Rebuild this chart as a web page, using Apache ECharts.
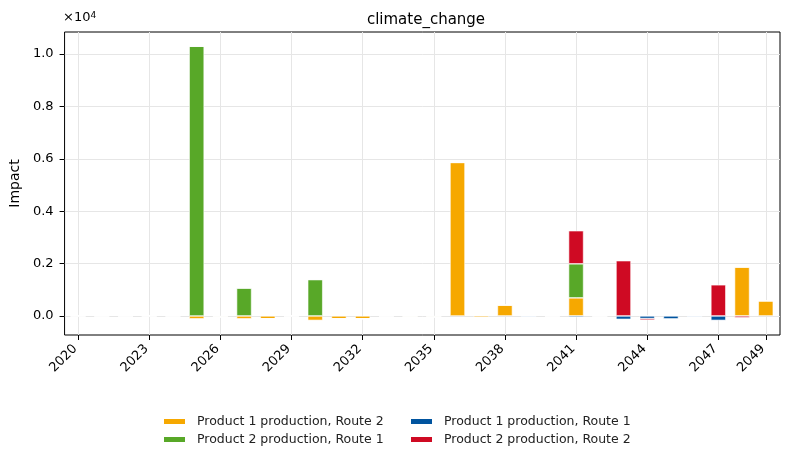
<!DOCTYPE html>
<html>
<head>
<meta charset="utf-8">
<script src="https://cdn.jsdelivr.net/npm/echarts@6/dist/echarts.min.js"></script>
<style>
html, body { margin: 0; padding: 0; background: #fff; }
#main { width: 790px; height: 461px; }
</style>
</head>
<body>
<div id="main"></div>
<script>
// 年份
var years = [2020, 2021, 2022, 2023, 2024, 2025, 2026, 2027, 2028, 2029,
    2030, 2031, 2032, 2033, 2034, 2035, 2036, 2037, 2038, 2039,
    2040, 2041, 2042, 2043, 2044, 2045, 2046, 2047, 2048, 2049];
// 刻度
var xTicks = [2020, 2023, 2026, 2029, 2032, 2035, 2038, 2041, 2044, 2047, 2049];
var yTicks = [0, 2000, 4000, 6000, 8000, 10000];

// 各系列数值
var names = ['Product 1 production, Route 2', 'Product 2 production, Route 1',
    'Product 1 production, Route 1', 'Product 2 production, Route 2'];
var p1Route2 = [0, 0, 0, 0, 0, -110, -40, -110, -110, 0,
    -170, -110, -110, 0, -40, -40, 5860, -60, 420, 0,
    0, 690, 0, 0, 0, 0, 0, 0, 1870, 580];
var p2Route1 = [0, 0, 0, 0, 0, 10300, 0, 1070, 0, 0,
    1390, 0, 0, 0, 0, 0, 0, 0, 0, 0,
    0, 1300, 0, 0, 0, 0, 0, 0, 0, 0];
var p1Route1 = [0, 0, 0, 0, 0, 0, 0, 0, 0, 0,
    0, 0, 0, 0, 0, 0, 0, 0, 0, -40,
    0, -50, 0, -130, -100, -120, -40, -170, 0, 0];
var p2Route2 = [0, 0, 0, 0, 0, 0, 0, 0, 0, 0,
    0, 0, 0, 0, 0, 0, 0, 0, 0, 0,
    0, 1265, 0, 2110, -60, 0, 0, 1190, -70, 0];
var colors = ['#f6a800', '#58a828', '#00549f', '#cf0a23'];

var font = 'DejaVu Sans';

// 数值在前，年份在后，保证堆叠作用在数值维度
function makeSeries(name, values, color) {
    return {
        name: name,
        type: 'bar',
        stack: 'total',
        barWidth: 15,
        encode: { x: 1, y: 0 },
        data: years.map(function(y, i) { return [values[i], y]; }),
        itemStyle: { color: color, borderColor: '#fff', borderWidth: 0.6 },
        emphasis: { disabled: true }
    };
}

function makeLegend(left, data) {
    return {
        orient: 'vertical',
        left: left,
        top: 415,
        padding: 0,
        itemWidth: 23,
        itemHeight: 7,
        itemGap: 5,
        icon: 'rect',
        data: data,
        textStyle: { fontFamily: font, fontSize: 12.5, color: '#222', padding: [0, 0, 0, 6] }
    };
}

var chart = echarts.init(document.getElementById('main'));
var option = {
    animation: false,
    textStyle: { fontFamily: font },
    title: {
        text: 'climate_change',
        left: 421,
        top: 8,
        textAlign: 'center',
        textStyle: { fontFamily: font, fontSize: 15, fontWeight: 'normal', color: '#000' }
    },
    // 坐标轴倍数标记
    graphic: [{
        type: 'text',
        left: 63,
        top: 11,
        style: {
            text: '×10{s|4}',
            font: '13px "DejaVu Sans"',
            fill: '#000',
            rich: {
                s: { fontSize: 9, fontFamily: font, verticalAlign: 'top', fill: '#000' }
            }
        }
    }],
    legend: [
        makeLegend(162, [names[0], names[1]]),
        makeLegend(409, [names[2], names[3]])
    ],
    grid: {
        left: 63,
        right: 10,
        top: 32,
        bottom: 126,
        show: true,
        borderColor: '#000',
        borderWidth: 1
    },
    xAxis: {
        type: 'value',
        min: 2019.43,
        max: 2049.6,
        axisLine: { show: false, onZero: false },
        axisTick: { show: true, customValues: xTicks, length: 5, lineStyle: { color: '#000' } },
        axisLabel: {
            customValues: xTicks,
            rotate: 45,
            margin: 9,
            padding: [0, 4, 0, 0],
            fontSize: 13,
            color: '#000',
            fontFamily: font,
            formatter: function(v) { return String(v); }
        },
        splitLine: { show: true, lineStyle: { color: '#e6e6e6' } }
    },
    yAxis: {
        type: 'value',
        min: -728,
        max: 10843,
        name: 'Impact',
        nameLocation: 'middle',
        nameGap: 37,
        nameTextStyle: { fontFamily: font, fontSize: 14, color: '#000' },
        axisLine: { show: false },
        axisTick: { show: true, customValues: yTicks, length: 5, lineStyle: { color: '#000' } },
        axisLabel: {
            customValues: yTicks,
            fontSize: 13,
            color: '#000',
            fontFamily: font,
            margin: 11,
            formatter: function(v) { return (v / 10000).toFixed(1); }
        },
        splitLine: { show: true, lineStyle: { color: '#e6e6e6' } }
    },
    series: [
        makeSeries(names[0], p1Route2, colors[0]),
        makeSeries(names[1], p2Route1, colors[1]),
        makeSeries(names[2], p1Route1, colors[2]),
        makeSeries(names[3], p2Route2, colors[3])
    ]
};
chart.setOption(option);
</script>
</body>
</html>
